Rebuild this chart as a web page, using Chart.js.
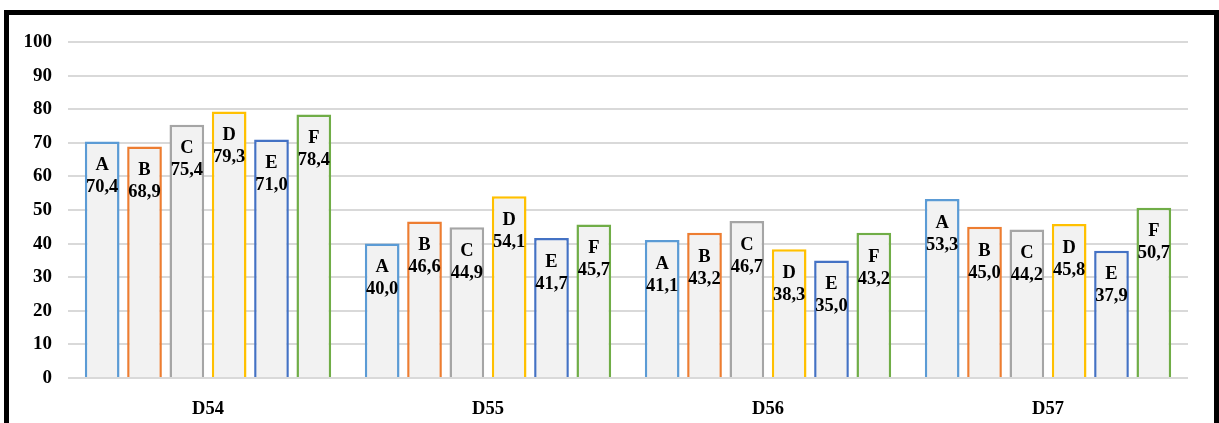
<!DOCTYPE html>
<html lang="en">
<head>
  <meta charset="UTF-8">
  <title>D54-D57</title>
  <script src="https://cdn.jsdelivr.net/npm/chart.js"></script>
  <style>
    html, body {
      margin: 0;
      padding: 0;
      background: #ffffff;
      overflow: hidden;
    }
    .wrap {
      position: relative;
      width: 1219px;
      height: 423px;
    }
    .frame {
      position: absolute;
      left: 4px;
      top: 10px;
      width: 1205px;
      height: 420px;
      border: 5px solid #000;
      border-bottom: none;
      pointer-events: none;
    }
    canvas {
      position: absolute;
      left: 0;
      top: 0;
    }
  </style>
</head>
<body>
  <div class="wrap">
    <canvas id="grafico" width="1219" height="423"></canvas>
    <div class="frame"></div>
  </div>

  <script>
const categorias = ['D54', 'D55', 'D56', 'D57'];
const series = ['A', 'B', 'C', 'D', 'E', 'F'];
const valoresA = [70.4, 40.0, 41.1, 53.3];
const valoresB = [68.9, 46.6, 43.2, 45.0];
const valoresC = [75.4, 44.9, 46.7, 44.2];
const valoresD = [79.3, 54.1, 38.3, 45.8];
const valoresE = [71.0, 41.7, 35.0, 37.9];
const valoresF = [78.4, 45.7, 43.2, 50.7];
const ticksY = [0, 10, 20, 30, 40, 50, 60, 70, 80, 90, 100];

const valores = [valoresA, valoresB, valoresC, valoresD, valoresE, valoresF];
const cores = ['#5b9bd5', '#ed7d31', '#a5a5a5', '#ffc000', '#4472c4', '#70ad47'];
const fonte = '"Liberation Serif", "Times New Roman", serif';

// rotulos dentro das barras: nome da serie e valor
const rotulosBarras = {
  id: 'rotulosBarras',
  afterDatasetsDraw(chart) {
    const ctx = chart.ctx;
    ctx.save();
    ctx.fillStyle = '#000';
    ctx.textAlign = 'center';
    ctx.textBaseline = 'middle';
    ctx.font = 'bold 18.5px ' + fonte;
    chart.data.datasets.forEach((ds, i) => {
      const meta = chart.getDatasetMeta(i);
      meta.data.forEach((bar, j) => {
        const v = ds.data[j];
        ctx.fillText(ds.label, bar.x, bar.y + 24);
        ctx.fillText(v.toFixed(1).replace('.', ','), bar.x, bar.y + 46);
      });
    });
    ctx.restore();
  }
};

new Chart(document.getElementById('grafico').getContext('2d'), {
  type: 'bar',
  data: {
    labels: categorias,
    datasets: series.map((nome, i) => ({
      label: nome,
      data: valores[i],
      backgroundColor: '#f2f2f2',
      borderColor: cores[i],
      borderWidth: 2.5,
      categoryPercentage: 0.907,
      barPercentage: 0.82
    }))
  },
  options: {
    responsive: false,
    animation: false,
    devicePixelRatio: 1,
    layout: { padding: { top: 42, right: 31, left: 0, bottom: 0 } },
    plugins: {
      legend: { display: false },
      tooltip: { enabled: false }
    },
    scales: {
      x: {
        grid: { display: false },
        border: { display: false },
        ticks: {
          color: '#000',
          padding: 12,
          font: { family: fonte, size: 18.5, weight: 'bold' }
        },
        afterFit(scale) { scale.height = 45; }
      },
      y: {
        min: 0,
        max: 100,
        afterBuildTicks(scale) { scale.ticks = ticksY.map(v => ({ value: v })); },
        grid: { color: '#d9d9d9', lineWidth: 2, drawTicks: false },
        border: { display: false },
        ticks: {
          color: '#000',
          padding: 16,
          font: { family: fonte, size: 19, weight: 'bold' }
        },
        afterFit(scale) { scale.width = 68; }
      }
    }
  },
  plugins: [rotulosBarras]
});
</script>
</body>
</html>
